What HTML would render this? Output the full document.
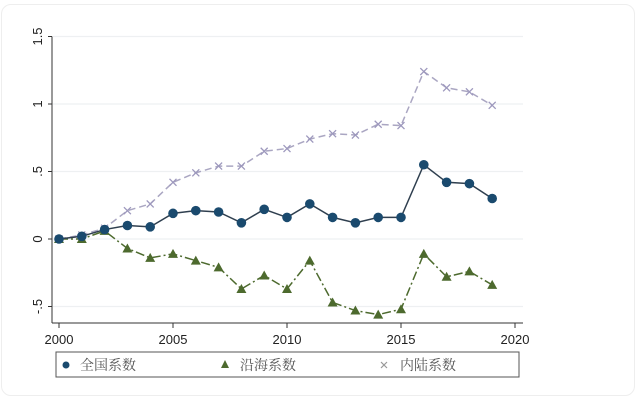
<!DOCTYPE html>
<html><head><meta charset="utf-8"><style>
body{margin:0;background:#fff;}
#card{position:absolute;left:1px;top:4px;width:632px;height:390px;border:1px solid #eee;border-radius:10px;}
svg{position:absolute;left:0;top:0;}
text{font-family:"Liberation Sans","Noto Serif CJK SC",sans-serif;}
text.lg{font-family:"Liberation Serif","Noto Serif CJK SC",serif;}
</style></head><body>
<div id="card"></div>
<svg id="chart" width="638" height="402"></svg>
<script>
const years=[2000,2001,2002,2003,2004,2005,2006,2007,2008,2009,2010,2011,2012,2013,2014,2015,2016,2017,2018,2019];
const national=[0,0.02,0.07,0.10,0.09,0.19,0.21,0.20,0.12,0.22,0.16,0.26,0.16,0.12,0.16,0.16,0.55,0.42,0.41,0.30];
const coastal=[0,0,0.06,-0.07,-0.14,-0.11,-0.16,-0.21,-0.37,-0.27,-0.37,-0.16,-0.47,-0.53,-0.56,-0.52,-0.11,-0.28,-0.24,-0.34];
const inland=[0,0.03,0.08,0.21,0.26,0.42,0.49,0.54,0.54,0.65,0.67,0.74,0.78,0.77,0.85,0.84,1.24,1.12,1.09,0.99];
const xTicks=[2000,2005,2010,2015,2020];
const yTicks=[-0.5,0,0.5,1,1.5];
const yTickLabels=["-.5","0",".5","1","1.5"];
const NS="http://www.w3.org/2000/svg";
const svg=document.getElementById('chart');
const X=v=>59+(v-2000)*22.8;
const Y=v=>239-v*135;
function mk(t,a,p){const e=document.createElementNS(NS,t);for(const k in a)e.setAttribute(k,a[k]);(p||svg).appendChild(e);return e;}
yTicks.forEach((t,i)=>{
 const g=mk('line',{x1:53,x2:523,y1:Y(t),y2:Y(t),stroke:'#eef0f2','stroke-width':1.2});
 
 
 mk('line',{x1:48,x2:52,y1:Y(t),y2:Y(t),stroke:'#333'});
 const tx=mk('text',{x:0,y:0,'font-size':13,fill:'#222','text-anchor':'middle',transform:`translate(${42},${Y(t)}) rotate(-90)`});
 tx.textContent=yTickLabels[i];
 
 
});
const ya=mk('line',{x1:52,x2:52,y1:Y(1.5),y2:323,stroke:'#333'});


const xa=mk('line',{x1:52,x2:523,y1:323,y2:323,stroke:'#333'});


xTicks.forEach(t=>{
 mk('line',{x1:X(t),x2:X(t),y1:323,y2:328,stroke:'#333'});
 const tx=mk('text',{x:X(t),y:344,'font-size':13,fill:'#222','text-anchor':'middle'});
 tx.textContent=t;
 
 
});
function pts(arr){return arr.map((v,i)=>X(years[i])+','+Y(v)).join(' ');}
const l1=mk('polyline',{points:pts(inland),fill:'none',stroke:'#aaa6c2','stroke-width':1.5,'stroke-dasharray':'7 4'});


const l2=mk('polyline',{points:pts(coastal),fill:'none',stroke:'#4d6a2e','stroke-width':1.5,'stroke-dasharray':'9 3 2 3'});


const l3=mk('polyline',{points:pts(national),fill:'none',stroke:'#2f3f4f','stroke-width':1.5});


inland.forEach((v,i)=>{const x=X(years[i]),y=Y(v);
 const m=mk('path',{d:`M${x-3.5},${y-3.5}L${x+3.5},${y+3.5}M${x-3.5},${y+3.5}L${x+3.5},${y-3.5}`,stroke:'#9d98bd','stroke-width':1.3});
 
 });
coastal.forEach((v,i)=>{const x=X(years[i]),y=Y(v);
 const m=mk('polygon',{points:`${x},${y-5} ${x-5},${y+4} ${x+5},${y+4}`,fill:'#4d6a2e'});
 
 });
national.forEach((v,i)=>{const m=mk('circle',{cx:X(years[i]),cy:Y(v),r:4.8,fill:'#1a4a6e'});
 
 });
const lg=mk('g',{});


mk('rect',{x:56,y:352,width:463,height:25,fill:'#fff',stroke:'#555','stroke-width':1},lg);
mk('circle',{cx:66,cy:365,r:3.5,fill:'#1a4a6e'},lg);
let t=mk('text',{x:80,y:370,'font-size':14,fill:'#555',class:'lg'},lg);t.textContent='全国系数';


mk('polygon',{points:'225,360 221,368 229,368',fill:'#4d6a2e'},lg);
t=mk('text',{x:240,y:370,'font-size':14,fill:'#555',class:'lg'},lg);t.textContent='沿海系数';


mk('path',{d:'M381,362L387,368M381,368L387,362',stroke:'#999','stroke-width':1.2},lg);
t=mk('text',{x:400,y:370,'font-size':14,fill:'#555',class:'lg'},lg);t.textContent='内陆系数';


</script>
</body></html>
